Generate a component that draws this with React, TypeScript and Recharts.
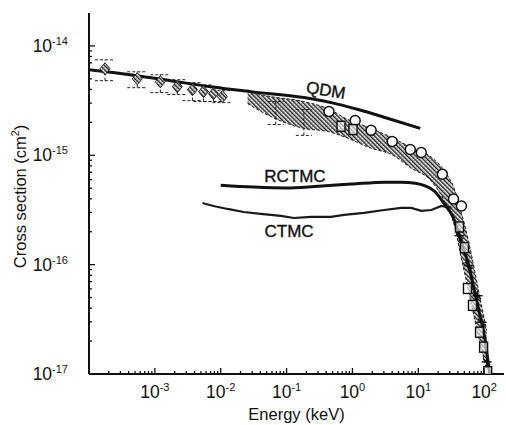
import React from 'react';
import {
  ComposedChart,
  XAxis,
  YAxis,
  Line,
  Area,
  Scatter,
  ErrorBar,
  ReferenceDot,
} from 'recharts';

const FONT = '"Liberation Sans", Arial, Helvetica, sans-serif';
const INK = '#111';

// Axis ranges and labelled decades (exponents of 10)
const xDomain = [1e-4, 200];
const yDomain = [1e-17, 2e-14];
const xDecades = [-3, -2, -1, 0, 1, 2];
const yDecades = [-17, -16, -15, -14];

// QDM (quantum-mechanical) cross section
const qdmEnergy = [1e-4, 4.2e-4, 1.72e-3, 7.0e-3, 0.0285, 0.183, 0.472, 1.22, 3.49, 10.7];
const qdmSigma = [6.05e-15, 5.45e-15, 4.81e-15, 4.24e-15, 3.82e-15, 3.37e-15, 3.03e-15, 2.62e-15, 2.17e-15, 1.76e-15];

// RCTMC cross section
const rctmcEnergy = [0.01, 0.0316, 0.0974, 0.307, 0.967, 3.12, 5.51, 9.0, 17.5, 24.9, 34.2, 45.2, 57.8, 68.9, 85.1, 101, 121];
const rctmcSigma = [5.33e-16, 5.12e-16, 5.02e-16, 5.22e-16, 5.45e-16, 5.68e-16, 5.68e-16, 5.56e-16, 4.71e-16, 3.59e-16, 2.67e-16, 1.58e-16, 1.0e-16, 6.3e-17, 3.59e-17, 2.21e-17, 1.0e-17];

// CTMC cross section
const ctmcEnergy = [5.28e-3, 7.76e-3, 0.0127, 0.0223, 0.0405, 0.0817, 0.129, 0.234, 0.472, 0.745, 1.5, 3.03, 5.51, 7.82, 11.1, 15.8, 22.4, 31.9];
const ctmcSigma = [3.66e-16, 3.44e-16, 3.23e-16, 3.03e-16, 2.91e-16, 2.79e-16, 2.67e-16, 2.73e-16, 2.73e-16, 2.85e-16, 2.97e-16, 3.16e-16, 3.3e-16, 3.3e-16, 3.1e-16, 3.16e-16, 3.44e-16, 3.3e-16];

// Measured band (lower / upper limits)
const bandEnergy = [0.0256, 0.0574, 0.183, 0.425, 0.857, 1.92, 3.88, 7.82, 15.8, 24.9, 35.4, 45.2, 57.8, 82.2, 109];
const bandLow = [2.97e-15, 2.26e-15, 1.76e-15, 1.65e-15, 1.43e-15, 1.16e-15, 1.02e-15, 7.62e-16, 5.8e-16, 3.8e-16, 2.26e-16, 1.13e-16, 5.8e-17, 2.17e-17, 1.09e-17];
const bandHigh = [3.82e-15, 3.44e-15, 3.1e-15, 2.67e-15, 2.12e-15, 1.76e-15, 1.46e-15, 1.18e-15, 9.6e-16, 7.2e-16, 4.9e-16, 2.97e-16, 1.65e-16, 5.8e-17, 2.5e-17];

// Low-energy measurements with error limits
const lowEnergy = [1.75e-4, 5.4e-4, 1.21e-3, 2.19e-3, 3.72e-3, 5.47e-3, 7.76e-3, 0.0106, 0.0684, 0.183];
const lowSigma = [6.18e-15, 5.01e-15, 4.71e-15, 4.24e-15, 3.98e-15, 3.82e-15, 3.66e-15, 3.44e-15, 2.41e-15, 2.04e-15];
const lowMin = [4.81e-15, 4.15e-15, 3.74e-15, 3.59e-15, 3.16e-15, 3.1e-15, 3.1e-15, 3.03e-15, 1.91e-15, 1.52e-15];
const lowMax = [7.46e-15, 5.8e-15, 5.45e-15, 4.91e-15, 4.61e-15, 4.4e-15, 4.2e-15, 3.9e-15, 3.1e-15, 2.62e-15];

// Open circles
const circleEnergy = [0.44, 1.1, 1.92, 4.02, 7.55, 11.1, 23.2, 34.2, 45.2];
const circleSigma = [2.51e-15, 2.08e-15, 1.69e-15, 1.34e-15, 1.13e-15, 1.06e-15, 6.7e-16, 3.98e-16, 3.44e-16];

// Open squares
const squareEnergy = [0.67, 1.02, 42.2, 50.2, 55.8, 66.5, 85.1, 98, 113];
const squareSigma = [1.84e-15, 1.72e-15, 2.21e-16, 1.43e-16, 6.05e-17, 4.24e-17, 2.41e-17, 1.76e-17, 1.05e-17];

// Asterisks on the high-energy fall-off
const starEnergy = [42.2, 57.8, 79.3, 91.2, 109];
const starSigma = [1.84e-16, 9.8e-17, 5.2e-17, 2.97e-17, 1.29e-17];

// Curve names placed in data coordinates
const curveNames = [
  { text: 'QDM', x: 0.383, y: 3.5e-15, angle: 9 },
  { text: 'RCTMC', x: 0.134, y: 5.69e-16, angle: 0 },
  { text: 'CTMC', x: 0.109, y: 1.79e-16, angle: 0 },
];

const pairs = (xs: number[], ys: number[]) => xs.map((x, i) => ({ x, y: ys[i] }));

const qdmData = pairs(qdmEnergy, qdmSigma);
const rctmcData = pairs(rctmcEnergy, rctmcSigma);
const ctmcData = pairs(ctmcEnergy, ctmcSigma);
const bandData = bandEnergy.map((x, i) => ({ x, range: [bandLow[i], bandHigh[i]] }));
const lowData = lowEnergy.map((x, i) => ({
  x,
  y: lowSigma[i],
  err: [lowSigma[i] - lowMin[i], lowMax[i] - lowSigma[i]],
}));
const lowHatched = lowData.slice(0, 8);
const lowPlain = lowData.slice(8);
const circleData = pairs(circleEnergy, circleSigma);
const squareData = pairs(squareEnergy, squareSigma);
const starData = pairs(starEnergy, starSigma);

// Log ticks: every integer multiple of each decade inside the domain
const mults = [1, 2, 3, 4, 5, 6, 7, 8, 9];
function logTicks(domain: number[], includeMin: boolean) {
  const out: number[] = [];
  const d0 = Math.floor(Math.log10(domain[0]));
  const d1 = Math.ceil(Math.log10(domain[1]));
  for (let d = d0; d <= d1; d++) {
    for (const m of mults) {
      const v = m * Math.pow(10, d);
      const lo = includeMin ? v >= domain[0] * 0.9999 : v > domain[0] * 1.0001;
      if (lo && v < domain[1] * 0.9999) out.push(v);
    }
  }
  return out;
}
const xTicks = logTicks(xDomain, false);
const yTicks = logTicks(yDomain, true);

function tickInfo(v: number) {
  const l = Math.log10(v);
  const e = Math.round(l);
  return { major: Math.abs(l - e) < 1e-6, exp: e };
}

const MAJOR = 6;
const MINOR = 3;
const TICK_FS = 17.5;
const EXP_FS = 11;

const BottomTick = (p: any) => {
  const { x, y, payload } = p;
  const { major, exp } = tickInfo(payload.value);
  const len = major ? MAJOR : MINOR;
  return (
    <g>
      <line x1={x} x2={x} y1={y} y2={y - len} stroke={INK} strokeWidth={1.3} />
      {major && xDecades.includes(exp) ? (
        <text x={x} y={y + 24} textAnchor="middle" fontFamily={FONT} fontSize={TICK_FS} fill={INK}>
          10<tspan dy={-7} fontSize={EXP_FS}>{`${exp}`}</tspan>
        </text>
      ) : null}
    </g>
  );
};

const TopTick = (p: any) => {
  const { x, y, payload } = p;
  const { major } = tickInfo(payload.value);
  const len = major ? MAJOR : MINOR;
  return <line x1={x} x2={x} y1={y} y2={y + len} stroke={INK} strokeWidth={1.3} />;
};

const LeftTick = (p: any) => {
  const { x, y, payload } = p;
  const { major, exp } = tickInfo(payload.value);
  const len = major ? MAJOR : MINOR;
  return (
    <g>
      <line x1={x} x2={x + len} y1={y} y2={y} stroke={INK} strokeWidth={1.3} />
      {major && yDecades.includes(exp) ? (
        <text x={x - 21} y={y + 6} textAnchor="end" fontFamily={FONT} fontSize={TICK_FS} fill={INK}>
          10<tspan dy={-7} fontSize={EXP_FS}>{`${exp}`}</tspan>
        </text>
      ) : null}
    </g>
  );
};

const RightTick = (p: any) => {
  const { x, y, payload } = p;
  const { major } = tickInfo(payload.value);
  const len = major ? MAJOR : MINOR;
  return <line x1={x} x2={x - len} y1={y} y2={y} stroke={INK} strokeWidth={1.3} />;
};

const XTitle = (p: any) => {
  const vb = p.viewBox || { x: 0, y: 0, width: 0, height: 0 };
  return (
    <text x={vb.x + vb.width / 2} y={vb.y + 46} textAnchor="middle" fontFamily={FONT} fontSize={16.5} fill={INK}>
      Energy (keV)
    </text>
  );
};

const YTitle = (p: any) => {
  const vb = p.viewBox || { x: 0, y: 0, width: 0, height: 0 };
  const cx = vb.x + 26;
  const cy = vb.y + vb.height / 2 + 3;
  return (
    <text
      x={cx}
      y={cy}
      transform={`rotate(-90 ${cx} ${cy})`}
      textAnchor="middle"
      fontFamily={FONT}
      fontSize={16.5}
      fill={INK}
    >
      Cross section (cm<tspan dy={-7} fontSize={10.5}>2</tspan>
      <tspan dy={7}>)</tspan>
    </text>
  );
};

const CircleMark = (p: any) => (
  <circle cx={p.cx} cy={p.cy} r={5} fill="#fff" stroke={INK} strokeWidth={1.5} />
);

const SquareMark = (p: any) => (
  <rect x={p.cx - 4} y={p.cy - 5} width={8} height={10} fill="#fff" fillOpacity={0.6} stroke={INK} strokeWidth={1.4} />
);

const StarMark = (p: any) => {
  const { cx, cy } = p;
  return (
    <g stroke={INK} strokeWidth={1.4}>
      <line x1={cx - 5} x2={cx + 5} y1={cy} y2={cy} />
      <line x1={cx} x2={cx} y1={cy - 5} y2={cy + 5} />
      <line x1={cx - 3.5} x2={cx + 3.5} y1={cy - 3.5} y2={cy + 3.5} />
    </g>
  );
};

const DiamondMark = (p: any) => {
  const { cx, cy } = p;
  return (
    <polygon
      points={`${cx},${cy - 6} ${cx + 5},${cy} ${cx},${cy + 6} ${cx - 5},${cy}`}
      fill="url(#hatch)"
      stroke="#222"
      strokeWidth={1}
    />
  );
};

const NoMark = () => <g />;

export default function App() {
  return (
    <div style={{ position: 'absolute', left: 0, top: 0, background: '#fff' }}>
      <ComposedChart width={506} height={425} margin={{ top: 13, right: 2, bottom: 0, left: 0 }}>
        <defs>
          <pattern id="hatch" width="3" height="3" patternUnits="userSpaceOnUse" patternTransform="rotate(-45)">
            <rect width="3" height="3" fill="#fff" />
            <line x1="0.7" y1="0" x2="0.7" y2="3" stroke="#1c1c1c" strokeWidth="1.4" />
            <circle cx="2.2" cy="1.5" r="0.45" fill="#333" />
          </pattern>
        </defs>

        <XAxis
          xAxisId="b"
          dataKey="x"
          type="number"
          scale="log"
          domain={xDomain}
          allowDataOverflow
          ticks={xTicks}
          interval={0}
          tickSize={0}
          tickMargin={0}
          height={51}
          axisLine={{ stroke: INK, strokeWidth: 2 }}
          tickLine={false}
          tick={<BottomTick />}
          label={<XTitle />}
        />
        <XAxis
          xAxisId="t"
          orientation="top"
          type="number"
          scale="log"
          domain={xDomain}
          allowDataOverflow
          ticks={xTicks}
          interval={0}
          tickSize={0}
          tickMargin={0}
          height={0}
          axisLine={{ stroke: INK, strokeWidth: 2 }}
          tickLine={false}
          tick={<TopTick />}
        />
        <YAxis
          yAxisId="l"
          dataKey="y"
          type="number"
          scale="log"
          domain={yDomain}
          allowDataOverflow
          ticks={yTicks}
          interval={0}
          tickSize={0}
          tickMargin={0}
          width={89}
          axisLine={{ stroke: INK, strokeWidth: 2 }}
          tickLine={false}
          tick={<LeftTick />}
          label={<YTitle />}
        />
        <YAxis
          yAxisId="r"
          orientation="right"
          type="number"
          scale="log"
          domain={yDomain}
          allowDataOverflow
          ticks={yTicks}
          interval={0}
          tickSize={0}
          tickMargin={0}
          width={0}
          axisLine={{ stroke: INK, strokeWidth: 2 }}
          tickLine={false}
          tick={<RightTick />}
        />

        <Area
          data={bandData}
          dataKey="range"
          xAxisId="b"
          yAxisId="l"
          type="monotone"
          fill="url(#hatch)"
          fillOpacity={1}
          stroke="#222"
          strokeWidth={1}
          strokeDasharray="3 2"
          dot={false}
          activeDot={false}
          isAnimationActive={false}
        />

        <Scatter data={lowHatched} dataKey="y" xAxisId="b" yAxisId="l" shape={DiamondMark} isAnimationActive={false}>
          <ErrorBar dataKey="err" direction="y" width={10} stroke="#222" strokeWidth={1} strokeDasharray="3 2" isAnimationActive={false} />
        </Scatter>
        <Scatter data={lowPlain} dataKey="y" xAxisId="b" yAxisId="l" shape={NoMark} isAnimationActive={false}>
          <ErrorBar dataKey="err" direction="y" width={8} stroke="#222" strokeWidth={1} strokeDasharray="3 2" isAnimationActive={false} />
        </Scatter>

        <Line data={ctmcData} dataKey="y" xAxisId="b" yAxisId="l" type="linear" stroke="#1a1a1a" strokeWidth={2.2} dot={false} activeDot={false} isAnimationActive={false} />
        <Line data={rctmcData} dataKey="y" xAxisId="b" yAxisId="l" type="monotone" stroke={INK} strokeWidth={3} dot={false} activeDot={false} isAnimationActive={false} />
        <Line data={qdmData} dataKey="y" xAxisId="b" yAxisId="l" type="monotone" stroke={INK} strokeWidth={3} dot={false} activeDot={false} isAnimationActive={false} />

        <Scatter data={circleData} dataKey="y" xAxisId="b" yAxisId="l" shape={CircleMark} isAnimationActive={false} />
        <Scatter data={squareData} dataKey="y" xAxisId="b" yAxisId="l" shape={SquareMark} isAnimationActive={false} />
        <Scatter data={starData} dataKey="y" xAxisId="b" yAxisId="l" shape={StarMark} isAnimationActive={false} />

        {curveNames.map((c) => (
          <ReferenceDot
            key={c.text}
            x={c.x}
            y={c.y}
            xAxisId="b"
            yAxisId="l"
            r={0}
            ifOverflow="visible"
            shape={(p: any) => (
              <text
                x={p.cx}
                y={p.cy}
                textAnchor="middle"
                transform={c.angle ? `rotate(${c.angle} ${p.cx} ${p.cy})` : undefined}
                fontFamily={FONT}
                fontSize={17}
                fill={INK}
                stroke={INK}
                strokeWidth={0.35}
              >
                {c.text}
              </text>
            )}
          />
        ))}
      </ComposedChart>
    </div>
  );
}
